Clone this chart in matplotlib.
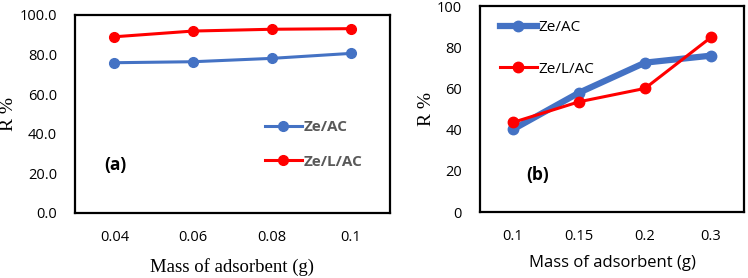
import matplotlib
matplotlib.use("Agg")
import matplotlib.pyplot as plt

# Panel (a)
cats_a = ["0.04", "0.06", "0.08", "0.1"]
zeac_a = [75.9, 76.4, 78.1, 80.6]
zelac_a = [89.0, 91.9, 92.8, 93.1]
yticks_a = [0, 20, 40, 60, 80, 100]

# Panel (b)
cats_b = ["0.1", "0.15", "0.2", "0.3"]
zeac_b = [40.1, 57.9, 72.5, 75.9]
zelac_b = [43.5, 53.5, 60.0, 84.8]
yticks_b = [0, 20, 40, 60, 80, 100]

BLUE = "#4472C4"
RED = "#FF0000"
W, H = 748, 278
fig = plt.figure(figsize=(W / 100, H / 100), dpi=100)

def px_axes(l, t, r, b):
    return fig.add_axes([l / W, (H - b) / H, (r - l) / W, (b - t) / H])

sans = "Open Sans"
serif = "Liberation Serif"

# ---- Panel (a)
ax = px_axes(75, 15, 390, 213)
xa = list(range(len(cats_a)))
ax.plot(xa, zeac_a, color=BLUE, lw=2.2, marker="o", ms=7, label="Ze/AC")
ax.plot(xa, zelac_a, color=RED, lw=2.2, marker="o", ms=7, label="Ze/L/AC")
ax.set_xlim(-0.5, len(cats_a) - 0.5)
ax.set_ylim(0, 100)
ax.set_xticks(xa)
ax.set_xticklabels(cats_a, fontfamily=sans, fontsize=10.5)
ax.set_yticks(yticks_a)
ax.set_yticklabels([f"{v:.1f}" for v in yticks_a], fontfamily=sans, fontsize=10.5)
ax.tick_params(length=0, pad=12)
ax.tick_params(axis="y", pad=13)
for s in ax.spines.values():
    s.set_linewidth(1.6)
ax.set_xlabel("Mass of adsorbent (g)", fontfamily=serif, fontsize=13.5, labelpad=10)
ax.set_ylabel("R %", fontfamily=serif, fontsize=14)
ax.yaxis.set_label_coords((17 - 75) / 315, 0.5)
ax.text(115, H - 165, "(a)", transform=None, fontsize=12.5, fontweight="bold",
        fontfamily=sans, ha="center", va="center")
leg = ax.legend(loc="upper left", bbox_to_anchor=(265 / W, (H - 120) / H),
                bbox_transform=fig.transFigure, frameon=False, borderpad=0,
                borderaxespad=0, handlelength=2.4, handletextpad=0.1,
                labelspacing=1.35, prop={"family": sans, "size": 11, "weight": "bold"})
for t in leg.get_texts():
    t.set_color("#595959")

# ---- Panel (b)
bx = px_axes(480, 6, 744, 212)
xb = list(range(len(cats_b)))
bx.plot(xb, zeac_b, color=BLUE, lw=4.5, marker="o", ms=7.5, label="Ze/AC")
bx.plot(xb, zelac_b, color=RED, lw=2.2, marker="o", ms=7.5, label="Ze/L/AC")
bx.set_xlim(-0.5, len(cats_b) - 0.5)
bx.set_ylim(0, 100)
bx.set_xticks(xb)
bx.set_xticklabels(cats_b, fontfamily=sans, fontsize=10.5)
bx.set_yticks(yticks_b)
bx.set_yticklabels([str(v) for v in yticks_b], fontfamily=sans, fontsize=10.5)
bx.tick_params(length=0, pad=12)
bx.tick_params(axis="y", pad=13)
for s in bx.spines.values():
    s.set_linewidth(1.6)
bx.set_xlabel("Mass of adsorbent (g)", fontfamily=sans, fontsize=12, labelpad=8)
bx.set_ylabel("R %", fontfamily=serif, fontsize=14)
bx.yaxis.set_label_coords((435 - 480) / 264, 0.5)
bx.text(538, H - 175, "(b)", transform=None, fontsize=12.5, fontweight="bold",
        fontfamily=sans, ha="center", va="center")
bx.legend(loc="upper left", bbox_to_anchor=(500 / W, (H - 20) / H),
          bbox_transform=fig.transFigure, frameon=False, borderpad=0,
          borderaxespad=0, handlelength=2.4, handletextpad=0.1,
          labelspacing=1.75, prop={"family": sans, "size": 11})

fig.savefig("out.png", dpi=100)
